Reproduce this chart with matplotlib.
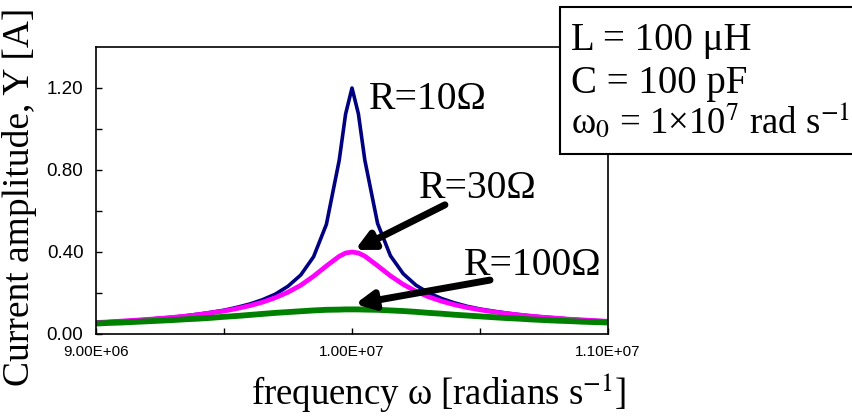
import numpy as np
import matplotlib
matplotlib.use("Agg")
import matplotlib.pyplot as plt
from matplotlib.patches import Rectangle

plt.rcParams['font.family'] = ['Liberation Serif', 'DejaVu Serif']
plt.rcParams['mathtext.fontset'] = 'stix'

# frequency (rad/s) and current amplitude (A)
freq = [9.00e6, 9.05e6, 9.10e6, 9.15e6, 9.20e6, 9.25e6, 9.30e6, 9.35e6, 9.40e6, 9.45e6,
        9.50e6, 9.55e6, 9.60e6, 9.65e6, 9.70e6, 9.75e6, 9.80e6, 9.85e6, 9.90e6, 9.95e6,
        9.975e6, 1.000e7, 1.0025e7, 1.005e7, 1.010e7, 1.015e7, 1.020e7, 1.025e7, 1.030e7,
        1.035e7, 1.040e7, 1.045e7, 1.050e7, 1.055e7, 1.060e7, 1.065e7, 1.070e7, 1.075e7,
        1.080e7, 1.085e7, 1.090e7, 1.095e7, 1.100e7]
y_r10 = [0.057, 0.060, 0.063, 0.067, 0.072, 0.077, 0.082, 0.089, 0.097, 0.106,
         0.116, 0.130, 0.146, 0.167, 0.194, 0.233, 0.288, 0.377, 0.535, 0.847,
         1.073, 1.200, 1.074, 0.849, 0.539, 0.382, 0.294, 0.238, 0.200,
         0.173, 0.152, 0.135, 0.122, 0.112, 0.103, 0.095, 0.088, 0.083,
         0.078, 0.073, 0.069, 0.066, 0.063]
y_r30 = [0.056, 0.059, 0.063, 0.067, 0.071, 0.076, 0.081, 0.087, 0.094, 0.103,
         0.112, 0.124, 0.138, 0.155, 0.177, 0.204, 0.238, 0.282, 0.332, 0.379,
         0.395, 0.400, 0.395, 0.380, 0.333, 0.284, 0.242, 0.208, 0.181,
         0.160, 0.143, 0.129, 0.118, 0.108, 0.100, 0.093, 0.087, 0.081,
         0.077, 0.072, 0.069, 0.065, 0.062]
y_r100 = [0.051, 0.054, 0.056, 0.059, 0.062, 0.065, 0.068, 0.072, 0.075, 0.079,
          0.084, 0.088, 0.093, 0.098, 0.103, 0.107, 0.111, 0.115, 0.118, 0.119,
          0.120, 0.120, 0.120, 0.119, 0.118, 0.115, 0.112, 0.108, 0.103,
          0.099, 0.094, 0.090, 0.086, 0.082, 0.078, 0.075, 0.071, 0.068,
          0.065, 0.063, 0.060, 0.058, 0.056]

fig = plt.figure(figsize=(8.53, 4.16), dpi=100)
ax = fig.add_axes([96/853, 82/416, 512/853, 287/416])

ax.plot(freq, y_r10, color='#000080', lw=2.6)
ax.plot(freq, y_r30, color='#FF00FF', lw=3.4)
ax.plot(freq, y_r100, color='#008000', lw=4.2)

ax.set_xlim(9.0e6, 1.1e7)
ax.set_ylim(0, 1.4)
ax.set_xticks([9.0e6, 1.0e7, 1.1e7])
ax.set_xticklabels(['9.00E+06', '1.00E+07', '1.10E+07'])
ax.set_xticks([9.5e6, 1.05e7], minor=True)
ax.set_yticks([0, 0.4, 0.8, 1.2])
ax.set_yticklabels(['0.00', '0.40', '0.80', '1.20'])
ax.set_yticks([0.2, 0.6, 1.0], minor=True)
ax.tick_params(which='both', direction='in', length=4, width=1)
ax.tick_params(axis='y', pad=9)
ax.tick_params(axis='x', pad=8)
for lab in ax.get_xticklabels():
    lab.set_family('Liberation Sans')
    lab.set_fontsize(11)
for lab in ax.get_yticklabels():
    lab.set_family('Liberation Sans')
    lab.set_fontsize(13.5)
for s in ax.spines.values():
    s.set_linewidth(1.2)

# axis titles placed in figure pixels
fig.text(439/853, 1 - 404/416, 'frequency \u03c9 [radians s$^{-1}$]', fontsize=26.5,
         ha='center', va='baseline')
fig.text(20/853, 1 - 197/416, 'Current amplitude, Y [A]', fontsize=27,
         ha='center', va='center', rotation=90)

ax.text(1.0066e7, 1.098, 'R=10\u03a9', fontsize=28.5, va='baseline')
ax.text(1.0262e7, 0.663, 'R=30\u03a9', fontsize=28.5, va='baseline')
ax.text(1.0438e7, 0.288, 'R=100\u03a9', fontsize=28.5, va='baseline')

arrow = dict(arrowstyle='-|>', lw=5, color='black', mutation_scale=27, shrinkA=0, shrinkB=0)
ax.annotate('', xy=(1.0012e7, 0.41), xytext=(1.0363e7, 0.63), arrowprops=arrow)
ax.annotate('', xy=(1.0012e7, 0.146), xytext=(1.0539e7, 0.263), arrowprops=arrow)

# parameter box in the top right corner
box = Rectangle((560/853, 1 - 154/416), 320/853, 147/416, transform=fig.transFigure,
                facecolor='white', edgecolor='black', lw=1.5, zorder=5)
fig.patches.append(box)
fig.text(571/853, 1 - 50/416, 'L = 100 \u03bcH', fontsize=28, va='baseline', zorder=6)
fig.text(571/853, 1 - 93/416, 'C = 100 pF', fontsize=28, va='baseline', zorder=6)
fig.text(571/853, 1 - 133/416, '\u03c9$_0$ = 1\u00d710$^7$ rad s$^{-1}$', fontsize=26.5,
         va='baseline', zorder=6)

plt.savefig('out.png', dpi=100)
